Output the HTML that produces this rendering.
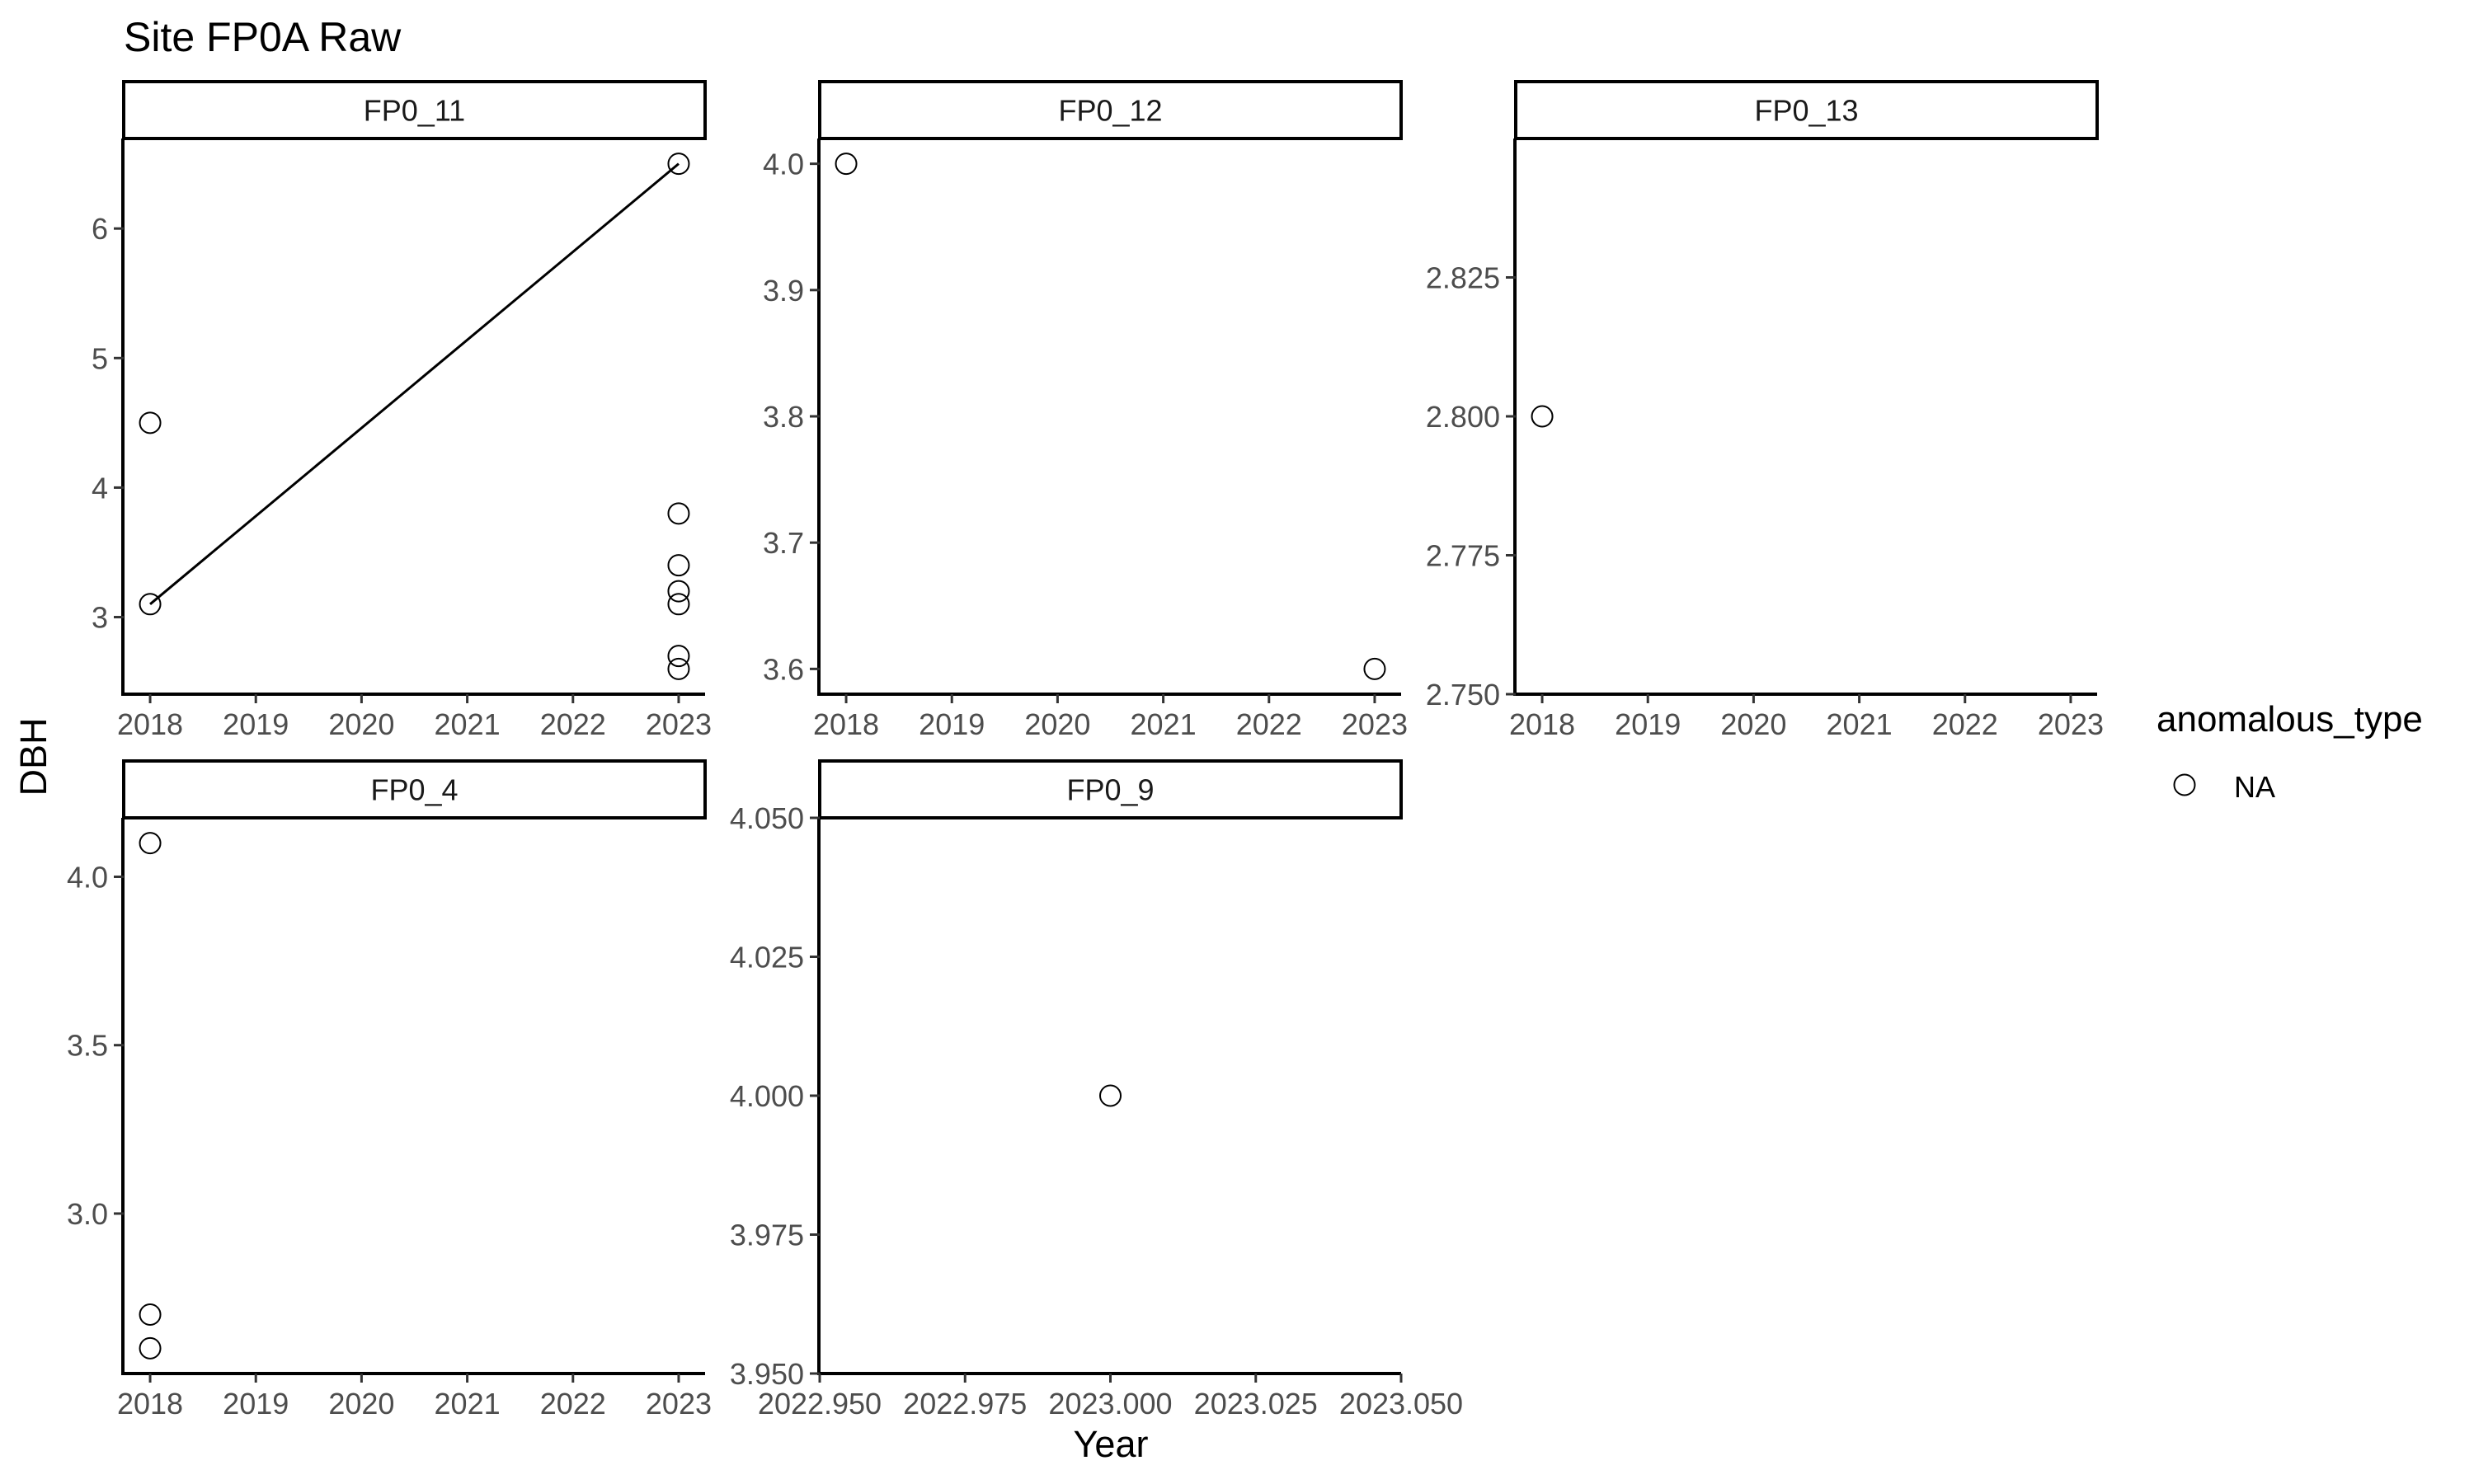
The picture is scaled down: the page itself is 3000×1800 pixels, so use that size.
<!DOCTYPE html>
<html><head><meta charset="utf-8"><style>
html,body{margin:0;padding:0;background:#fff;}
svg{display:block;font-family:"Liberation Sans",Arial,sans-serif;}
</style></head><body>
<svg id="chart" width="3000" height="1800" viewBox="0 0 3000 1800" xmlns="http://www.w3.org/2000/svg">
<rect width="3000" height="1800" fill="#fff"/>
<text x="150" y="62" font-size="50" fill="#000">Site FP0A Raw</text>
<text transform="translate(56,918) rotate(-90)" text-anchor="middle" font-size="45" fill="#000">DBH</text>
<text x="1347" y="1767" text-anchor="middle" font-size="45" fill="#000">Year</text>
<text x="2615" y="887" font-size="44" fill="#000">anomalous_type</text>
<circle cx="2649" cy="952" r="12.5" fill="none" stroke="#000" stroke-width="2"/>
<text x="2709" y="967" font-size="36" fill="#000">NA</text>
<g id="panels"></g>
</svg>
<script>
const panelNames = ["FP0_11","FP0_12","FP0_13","FP0_4","FP0_9"];
const p11Years = [2018,2018,2023,2023,2023,2023,2023,2023,2023];
const p11Dbh = [4.5,3.1,6.5,3.8,3.4,3.2,3.1,2.7,2.6];
const p11LineYears = [2018,2023];
const p11LineDbh = [3.1,6.5];
const p12Years = [2018,2023];
const p12Dbh = [4.0,3.6];
const p13Years = [2018];
const p13Dbh = [2.8];
const p4Years = [2018,2018,2018];
const p4Dbh = [4.1,2.7,2.6];
const p9Years = [2023];
const p9Dbh = [4.0];
const yearTicks = [2018,2019,2020,2021,2022,2023];
const p9XTicks = [2022.95,2022.975,2023.0,2023.025,2023.05];
const p9XLabels = ["2022.950","2022.975","2023.000","2023.025","2023.050"];
const p11YTicks = [3,4,5,6];
const p11YLabels = ["3","4","5","6"];
const p12YTicks = [3.6,3.7,3.8,3.9,4.0];
const p12YLabels = ["3.6","3.7","3.8","3.9","4.0"];
const p13YTicks = [2.75,2.775,2.8,2.825];
const p13YLabels = ["2.750","2.775","2.800","2.825"];
const p4YTicks = [3.0,3.5,4.0];
const p4YLabels = ["3.0","3.5","4.0"];
const p9YTicks = [3.95,3.975,4.0,4.025,4.05];
const p9YLabels = ["3.950","3.975","4.000","4.025","4.050"];

const NS="http://www.w3.org/2000/svg";
const root=document.getElementById('panels');
function mk(tag,attrs,parent){const e=document.createElementNS(NS,tag);for(const k in attrs)e.setAttribute(k,attrs[k]);(parent||root).appendChild(e);return e;}
function ext(arr,expand){let lo=Math.min(...arr),hi=Math.max(...arr);if(lo===hi){return [lo-0.05,hi+0.05];}const d=(hi-lo)*expand;return [lo-d,hi+d];}

function panel(idx,left,top,name,xs,ys,xTicks,xLabels,xDom,yTicks,yLabels,yDom,line){
  const W=705,H=674,stripH=69;
  const g=mk('g',{});
  
  
  const sx=v=>left+(v-xDom[0])/(xDom[1]-xDom[0])*W;
  const sy=v=>top+H-(v-yDom[0])/(yDom[1]-yDom[0])*H;
  const strip=mk('rect',{x:left,y:top-stripH,width:W,height:stripH,fill:'#fff',stroke:'#000','stroke-width':4},g);
  
  
  const st=mk('text',{x:left+W/2,y:top-stripH/2+13,'text-anchor':'middle','font-size':36,fill:'#1a1a1a'},g);
  st.textContent=name;
  
  
  const ax=mk('line',{x1:left-1,y1:top,x2:left-1,y2:top+H+2,stroke:'#000','stroke-width':4},g);
  
  
  const bx=mk('line',{x1:left-3,y1:top+H,x2:left+W,y2:top+H,stroke:'#000','stroke-width':4},g);
  
  
  xTicks.forEach((t,i)=>{
    const x=sx(t);
    const tk=mk('line',{x1:x,y1:top+H,x2:x,y2:top+H+11,stroke:'#333','stroke-width':3},g);
    
    
    const tl=mk('text',{x:x,y:top+H+49,'text-anchor':'middle','font-size':36,fill:'#4d4d4d'},g);
    tl.textContent=xLabels[i];
    
    
  });
  yTicks.forEach((t,i)=>{
    const y=sy(t);
    const tk=mk('line',{x1:left-12,y1:y,x2:left,y2:y,stroke:'#333','stroke-width':3},g);
    
    
    const tl=mk('text',{x:left-19,y:y+13,'text-anchor':'end','font-size':36,fill:'#4d4d4d'},g);
    tl.textContent=yLabels[i];
    
    
  });
  if(line){
    const pts=line[0].map((v,i)=>sx(v)+','+sy(line[1][i])).join(' ');
    const pl=mk('polyline',{points:pts,fill:'none',stroke:'#000','stroke-width':3},g);
    
    
  }
  xs.forEach((v,i)=>{
    const c=mk('circle',{cx:sx(v),cy:sy(ys[i]),r:12.5,fill:'none',stroke:'#000','stroke-width':2},g);
    
    
  });
}
const yearDom=ext(yearTicks.slice(0,1).concat([2023]),0.05);
const yl=yearTicks.map(String);
panel(0,150,168,panelNames[0],p11Years,p11Dbh,yearTicks,yl,yearDom,p11YTicks,p11YLabels,ext(p11Dbh,0.05),[p11LineYears,p11LineDbh]);
panel(1,994,168,panelNames[1],p12Years,p12Dbh,yearTicks,yl,yearDom,p12YTicks,p12YLabels,ext(p12Dbh,0.05),null);
panel(2,1838,168,panelNames[2],p13Years,p13Dbh,yearTicks,yl,yearDom,p13YTicks,p13YLabels,ext(p13Dbh,0.05),null);
panel(3,150,992,panelNames[3],p4Years,p4Dbh,yearTicks,yl,yearDom,p4YTicks,p4YLabels,ext(p4Dbh,0.05),null);
panel(4,994,992,panelNames[4],p9Years,p9Dbh,p9XTicks,p9XLabels,ext(p9Years,0.05),p9YTicks,p9YLabels,ext(p9Dbh,0.05),null);
</script>
</body></html>
